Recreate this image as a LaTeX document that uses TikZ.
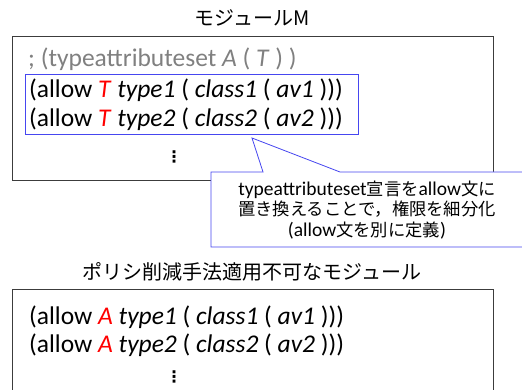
\documentclass[tikz,border=0pt]{standalone}
\usepackage{fontspec}
\setmainfont{Carlito}
\newfontfamily\jp{Noto Sans CJK JP}
\newfontfamily\dv{DejaVu Sans}
\definecolor{calloutblue}{RGB}{70,70,240}
\definecolor{commentgray}{RGB}{128,128,128}
\definecolor{boxline}{RGB}{60,60,60}
\newcommand{\jpc}[1]{{\jp\fontsize{17.3}{20.5}\selectfont #1}}
\begin{document}
\begin{tikzpicture}[x=1pt,y=-1pt,
  codeline/.style={anchor=west,inner sep=0pt,font=\fontsize{25.5}{30}\selectfont},
  titletext/.style={anchor=center,inner sep=0pt,font=\jp\fontsize{20}{22}\selectfont},
  modbox/.style={draw=boxline,line width=0.8pt},
  vdot/.style={anchor=center,inner sep=0pt,font=\dv\bfseries\fontsize{16}{18}\selectfont}
]
\useasboundingbox (0,0) rectangle (522,390);
% titles
\node[titletext] (t1) at (252,18) {モジュールM};
\node[titletext] (t2) at (252,272) {ポリシ削減手法適用不可なモジュール};
% top module box
\draw[modbox] (12,36) rectangle (493,180);
\node[codeline,text=commentgray] (c0) at (28,59) {; (typeattributeset \textit{A} ( \textit{T} ) )};
\node[codeline] (c1) at (29,90) {(allow \textcolor{red}{\textit{T}} \textit{type1} ( \textit{class1} ( \textit{av1} )))};
\node[codeline] (c2) at (29,119) {(allow \textcolor{red}{\textit{T}} \textit{type2} ( \textit{class2} ( \textit{av2} )))};
\node[vdot] (d1) at (174,157) {⋮};
\draw[calloutblue,line width=0.8pt] (25,74) rectangle (358,134);
\coordinate (tip) at (252,138);
% callout
\draw[calloutblue,line width=0.8pt,fill=white]
  (211,172) -- (263,172) -- (tip) -- (340,172) -- (524,172) -- (524,247) -- (211,247) -- cycle;
\node[anchor=center,inner sep=0pt,align=center,font=\fontsize{19.5}{20.5}\selectfont] (note) at (367,210)
  {typeattributeset\jpc{宣言を}allow\jpc{文に}\\
   \jpc{置き換えることで，権限を細分化}\\
   (allow\jpc{文を別に定義})};
% bottom module box
\draw[modbox] (12,289) -- (12,392) (12,289) -- (493,289) -- (493,392);
\node[codeline] (b1) at (29,317) {(allow \textcolor{red}{\textit{A}} \textit{type1} ( \textit{class1} ( \textit{av1} )))};
\node[codeline] (b2) at (29,345) {(allow \textcolor{red}{\textit{A}} \textit{type2} ( \textit{class2} ( \textit{av2} )))};
\node[vdot] (d2) at (174,377) {⋮};
\end{tikzpicture}
\end{document}
